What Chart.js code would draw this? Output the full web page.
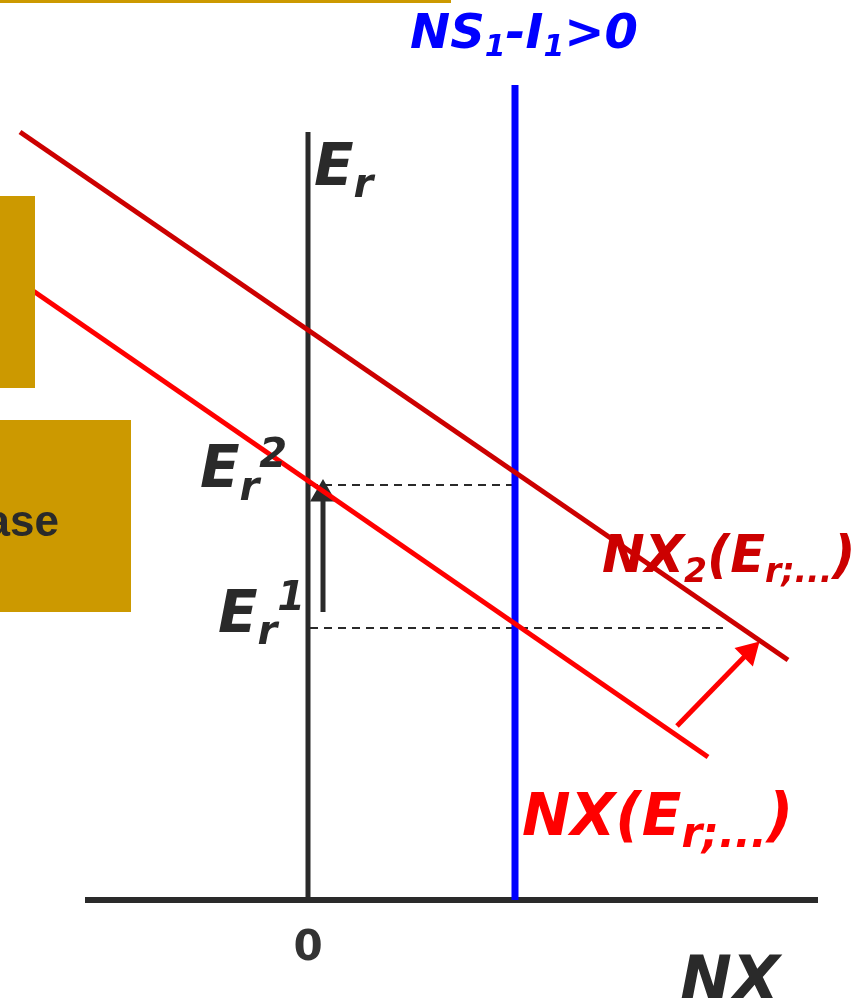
<!DOCTYPE html>
<html>
<head>
<meta charset="utf-8">
<script src="https://cdn.jsdelivr.net/npm/chart.js@4.4.1/dist/chart.umd.min.js"></script>
<style>
  html, body { margin: 0; padding: 0; background: #fff; }
  canvas { display: block; }
</style>
</head>
<body>
<canvas id="myChart" width="851" height="998"></canvas>
<script>
// Data (NX on x, real exchange rate E_r on y)
const nxLineX = [-3.08, 4.00];
const nxLineY = [6.32, 1.43];
const nx2LineX = [-2.88, 4.80];
const nx2LineY = [7.68, 2.40];
const savingGap = 2.07;          // NS1 - I1 > 0
const savingGapTop = 8.15;
const erLevels = [2.72, 4.15];   // E_r^1, E_r^2
const erDashEnd = [4.15, 2.07];
const axisX = [-2.23, 5.10];
const axisYTop = 7.68;
const shiftArrowX = [3.69, 4.41];
const shiftArrowY = [1.74, 2.48];
const riseArrowX = 0.15;
const riseArrowY = [2.88, 4.06];
const xTicks = [0];

const dark = '#2a2a2a';
const gold = '#cc9900';

function pts(xs, ys) {
    return xs.map((x, i) => ({ x: x, y: ys[i] }));
}

// Rich text helper: segments of [text, size, dy]
function drawRich(ctx, x, y, segs, color, italic) {
    ctx.fillStyle = color;
    ctx.textBaseline = 'alphabetic';
    ctx.textAlign = 'left';
    segs.forEach(s => {
        ctx.font = (italic ? 'italic ' : '') + 'bold ' + s[1] + 'px "DejaVu Sans"';
        ctx.fillText(s[0], x, y + (s[2] || 0));
        x += ctx.measureText(s[0]).width;
    });
}

const decor = {
    id: 'decor',
    afterDatasetsDraw(chart) {
        const ctx = chart.ctx;
        const xs = chart.scales.x;
        ctx.save();
        // gold boxes on the left and top rule
        ctx.fillStyle = gold;
        ctx.fillRect(0, 0, 451, 3);
        ctx.fillRect(0, 196, 35, 192);
        ctx.fillRect(0, 420, 131, 192);
        ctx.fillStyle = dark;
        ctx.font = 'bold 44px "Liberation Sans"';
        ctx.textAlign = 'right';
        ctx.fillText('ase', 59, 536);

        drawRich(ctx, 410, 48, [['NS', 48], ['1', 30, 8], ['-I', 48], ['1', 30, 8], ['>0', 48]], '#0000ff', true);
        drawRich(ctx, 314, 185, [['E', 58], ['r', 40, 12]], dark, true);
        drawRich(ctx, 200, 487, [['E', 58], ['r', 40, 13], ['2', 40, -20]], dark, true);
        drawRich(ctx, 218, 632, [['E', 58], ['r', 40, 12], ['1', 40, -22]], dark, true);
        drawRich(ctx, 602, 572, [['NX', 51], ['2', 33, 10], ['(E', 51], ['r;...', 33, 10], [')', 51]], '#cc0000', true);
        drawRich(ctx, 522, 835, [['NX(E', 58], ['r;...', 42, 12], [')', 58]], '#ff0000', true);
        drawRich(ctx, 680, 1000, [['NX', 62]], dark, true);

        ctx.fillStyle = '#333';
        ctx.font = 'bold 42px "DejaVu Sans"';
        ctx.textAlign = 'center';
        xTicks.forEach(t => ctx.fillText(String(t), xs.getPixelForValue(t), 960));
        ctx.restore();
    }
};

const ctx = document.getElementById('myChart').getContext('2d');

new Chart(ctx, {
    type: 'scatter',
    data: {
        datasets: [
            {
                label: 'NX2',
                data: pts(nx2LineX, nx2LineY),
                borderColor: '#cc0000', borderWidth: 5
            },
            {
                label: 'NX',
                data: pts(nxLineX, nxLineY),
                borderColor: '#ff0000', borderWidth: 5
            },
            {
                label: 'shift',
                data: pts(shiftArrowX, shiftArrowY),
                borderColor: '#ff0000', borderWidth: 5,
                pointRadius: [0, 10], pointStyle: 'triangle', pointRotation: 45,
                pointBackgroundColor: '#ff0000', pointBorderColor: '#ff0000'
            },
            {
                label: 'rise',
                data: pts([riseArrowX, riseArrowX], riseArrowY),
                borderColor: dark, borderWidth: 5,
                pointRadius: [0, 10], pointStyle: 'triangle', pointRotation: 0,
                pointBackgroundColor: dark, pointBorderColor: dark
            },
            {
                label: 'NS1-I1',
                data: pts([savingGap, savingGap], [0, savingGapTop]),
                borderColor: '#0000ff', borderWidth: 7
            },
            {
                label: 'Er axis',
                data: pts([0, 0], [0, axisYTop]),
                borderColor: dark, borderWidth: 5
            },
            {
                label: 'NX axis',
                data: pts(axisX, [0, 0]),
                borderColor: dark, borderWidth: 6
            },
            {
                label: 'Er2',
                data: pts([0.02, erDashEnd[1]], [erLevels[1], erLevels[1]]),
                borderColor: dark, borderWidth: 1.8, borderDash: [8, 6]
            },
            {
                label: 'Er1',
                data: pts([0.02, erDashEnd[0]], [erLevels[0], erLevels[0]]),
                borderColor: dark, borderWidth: 1.8, borderDash: [8, 6]
            }
        ].map(d => Object.assign({ showLine: true, pointRadius: 0, fill: false, tension: 0 }, d))
    },
    options: {
        responsive: false,
        animation: false,
        devicePixelRatio: 1,
        layout: { padding: 0, autoPadding: false },
        plugins: { legend: { display: false }, tooltip: { enabled: false } },
        scales: {
            x: { type: 'linear', min: -3.08, max: 5.43, display: false },
            y: { type: 'linear', min: -0.98, max: 9.00, display: false }
        }
    },
    plugins: [decor]
});
</script>
</body>
</html>
